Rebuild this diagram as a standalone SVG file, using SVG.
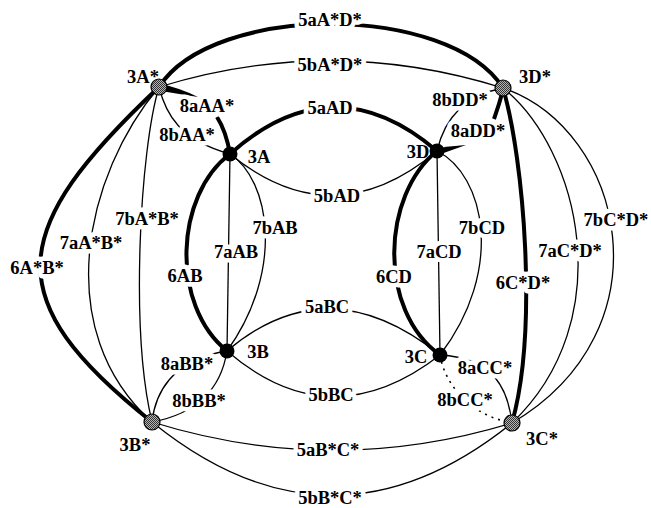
<svg xmlns="http://www.w3.org/2000/svg" width="651" height="508" viewBox="0 0 651 508">
  <defs>
    <pattern id="stipple" width="2" height="2" patternUnits="userSpaceOnUse">
      <rect width="2" height="2" fill="#b4b4b4"/>
      <rect width="1" height="1" fill="#333"/>
      <rect x="1" y="1" width="1" height="1" fill="#333"/>
    </pattern>
    <style>
      .thin { fill: none; stroke: #000; stroke-width: 1.3; }
      .thick { fill: none; stroke: #000; stroke-width: 4; }
      .dot { fill: none; stroke: #000; stroke-width: 1.6; stroke-dasharray: 2 5; }
      .wedge { fill: #000; stroke: none; }
      text { font-family: "Liberation Serif", "Times New Roman", serif; font-weight: bold; font-size: 18.5px; fill: #000; text-anchor: middle; }
      .el { stroke: #fff; stroke-width: 9; stroke-linejoin: round; paint-order: stroke; }
      .star { fill: url(#stipple); stroke: #000; stroke-width: 1.2; }
      .core { fill: #000; }
    </style>
  </defs>
  <rect width="651" height="508" fill="#fff"/>

  <!-- connectors -->
  <g id="connectors">
    <!-- outer ring between starred nodes -->
    <path class="thick" d="M159,87 C213,3 449,3 503,88"/>
    <path class="thin" d="M159,87 Q331,34 503,88"/>
    <path class="thick" d="M159,87 C7,230 -3,299 152,422"/>
    <path class="thin" d="M159,87 C85,175 50,330 152,422"/>
    <path class="thin" d="M159,87 C140,150 130,330 152,422"/>
    <path class="thick" d="M503,88 C524,160 538,330 512,423"/>
    <path class="thin" d="M503,88 C580,150 620,320 512,423"/>
    <path class="thin" d="M503,88 C625,130 670,330 512,423"/>
    <path class="thin" d="M152,422 Q332,478 512,423"/>
    <path class="thin" d="M152,422 Q332,568 512,423"/>

    <!-- inner ring -->
    <path class="thick" d="M230,154 Q333,62 437,151"/>
    <path class="thin" d="M230,154 Q333,238 437,151"/>
    <path class="thick" d="M230,154 C175,195 170,305 227,351"/>
    <path class="thin" d="M230,154 L227,351"/>
    <path class="thin" d="M230,154 C270,180 285,270 227,351"/>
    <path class="thick" d="M437,151 C382,195 377,310 440,355"/>
    <path class="thin" d="M437,151 L440,355"/>
    <path class="thin" d="M437,151 C485,175 505,270 440,355"/>
    <path class="thin" d="M227,351 Q328,265 440,355"/>
    <path class="thin" d="M227,351 Q330,440 440,355"/>

    <!-- spokes between each node and its starred partner -->
    <path class="wedge" d="M161,84 Q180,88 198,97 Q179,94 161,91 Z"/>
    <path class="thick" d="M217,117 Q226,131 230,154"/>
    <path class="thin" d="M159,87 C166,115 180,140 230,154"/>
    <path class="thick" d="M503,90 Q499,105 494,119"/>
    <path class="wedge" d="M438,148 Q452,146 466,145 Q452,150 438,155 Z"/>
    <path class="thin" d="M503,88 C472,94 446,112 437,151"/>
    <path class="thin" d="M152,422 C155,395 170,360 227,351"/>
    <path class="thin" d="M152,422 C190,415 220,395 227,351"/>
    <path class="thin" d="M512,423 C508,390 495,358 440,355"/>
    <path class="dot" d="M440,355 C445,385 470,415 512,423"/>
  </g>

  <!-- connector labels -->
  <g id="edge-labels">
    <text class="el" x="330" y="26">5aA*D*</text>
    <text class="el" x="330" y="71">5bA*D*</text>
    <text class="el" x="330" y="114">5aAD</text>
    <text class="el" x="337" y="202">5bAD</text>
    <text class="el" x="207" y="112">8aAA*</text>
    <text class="el" x="187" y="141">8bAA*</text>
    <text class="el" x="460" y="106">8bDD*</text>
    <text class="el" x="478" y="137">8aDD*</text>
    <text class="el" x="275" y="234">7bAB</text>
    <text class="el" x="236" y="258">7aAB</text>
    <text class="el" x="185" y="282">6AB</text>
    <text class="el" x="327" y="313">5aBC</text>
    <text class="el" x="331" y="401">5bBC</text>
    <text class="el" x="187" y="370">8aBB*</text>
    <text class="el" x="199" y="407">8bBB*</text>
    <text class="el" x="147" y="225">7bA*B*</text>
    <text class="el" x="91" y="249">7aA*B*</text>
    <text class="el" x="37" y="274">6A*B*</text>
    <text class="el" x="482" y="234">7bCD</text>
    <text class="el" x="439" y="258">7aCD</text>
    <text class="el" x="394" y="283">6CD</text>
    <text class="el" x="523" y="289">6C*D*</text>
    <text class="el" x="570" y="257">7aC*D*</text>
    <text class="el" x="616" y="226">7bC*D*</text>
    <text class="el" x="485" y="374">8aCC*</text>
    <text class="el" x="465" y="406">8bCC*</text>
    <text class="el" x="328" y="456">5aB*C*</text>
    <text class="el" x="330" y="504">5bB*C*</text>
  </g>

  <!-- starred nodes -->
  <g id="node-3As"><circle class="star" cx="159" cy="87" r="8"/><text x="143" y="83">3A*</text></g>
  <g id="node-3Ds"><circle class="star" cx="503" cy="88" r="8"/><text x="535" y="83">3D*</text></g>
  <g id="node-3Bs"><circle class="star" cx="152" cy="422" r="8"/><text x="135" y="451">3B*</text></g>
  <g id="node-3Cs"><circle class="star" cx="512" cy="423" r="8"/><text x="542" y="445">3C*</text></g>

  <!-- plain nodes -->
  <g id="node-3A"><circle class="core" cx="230" cy="154" r="7.5"/><text x="259" y="163">3A</text></g>
  <g id="node-3D"><circle class="core" cx="437" cy="151" r="7.5"/><text x="418" y="158">3D</text></g>
  <g id="node-3B"><circle class="core" cx="227" cy="351" r="7.5"/><text x="258" y="358">3B</text></g>
  <g id="node-3C"><circle class="core" cx="440" cy="355" r="7.5"/><text x="416" y="363">3C</text></g>
</svg>
